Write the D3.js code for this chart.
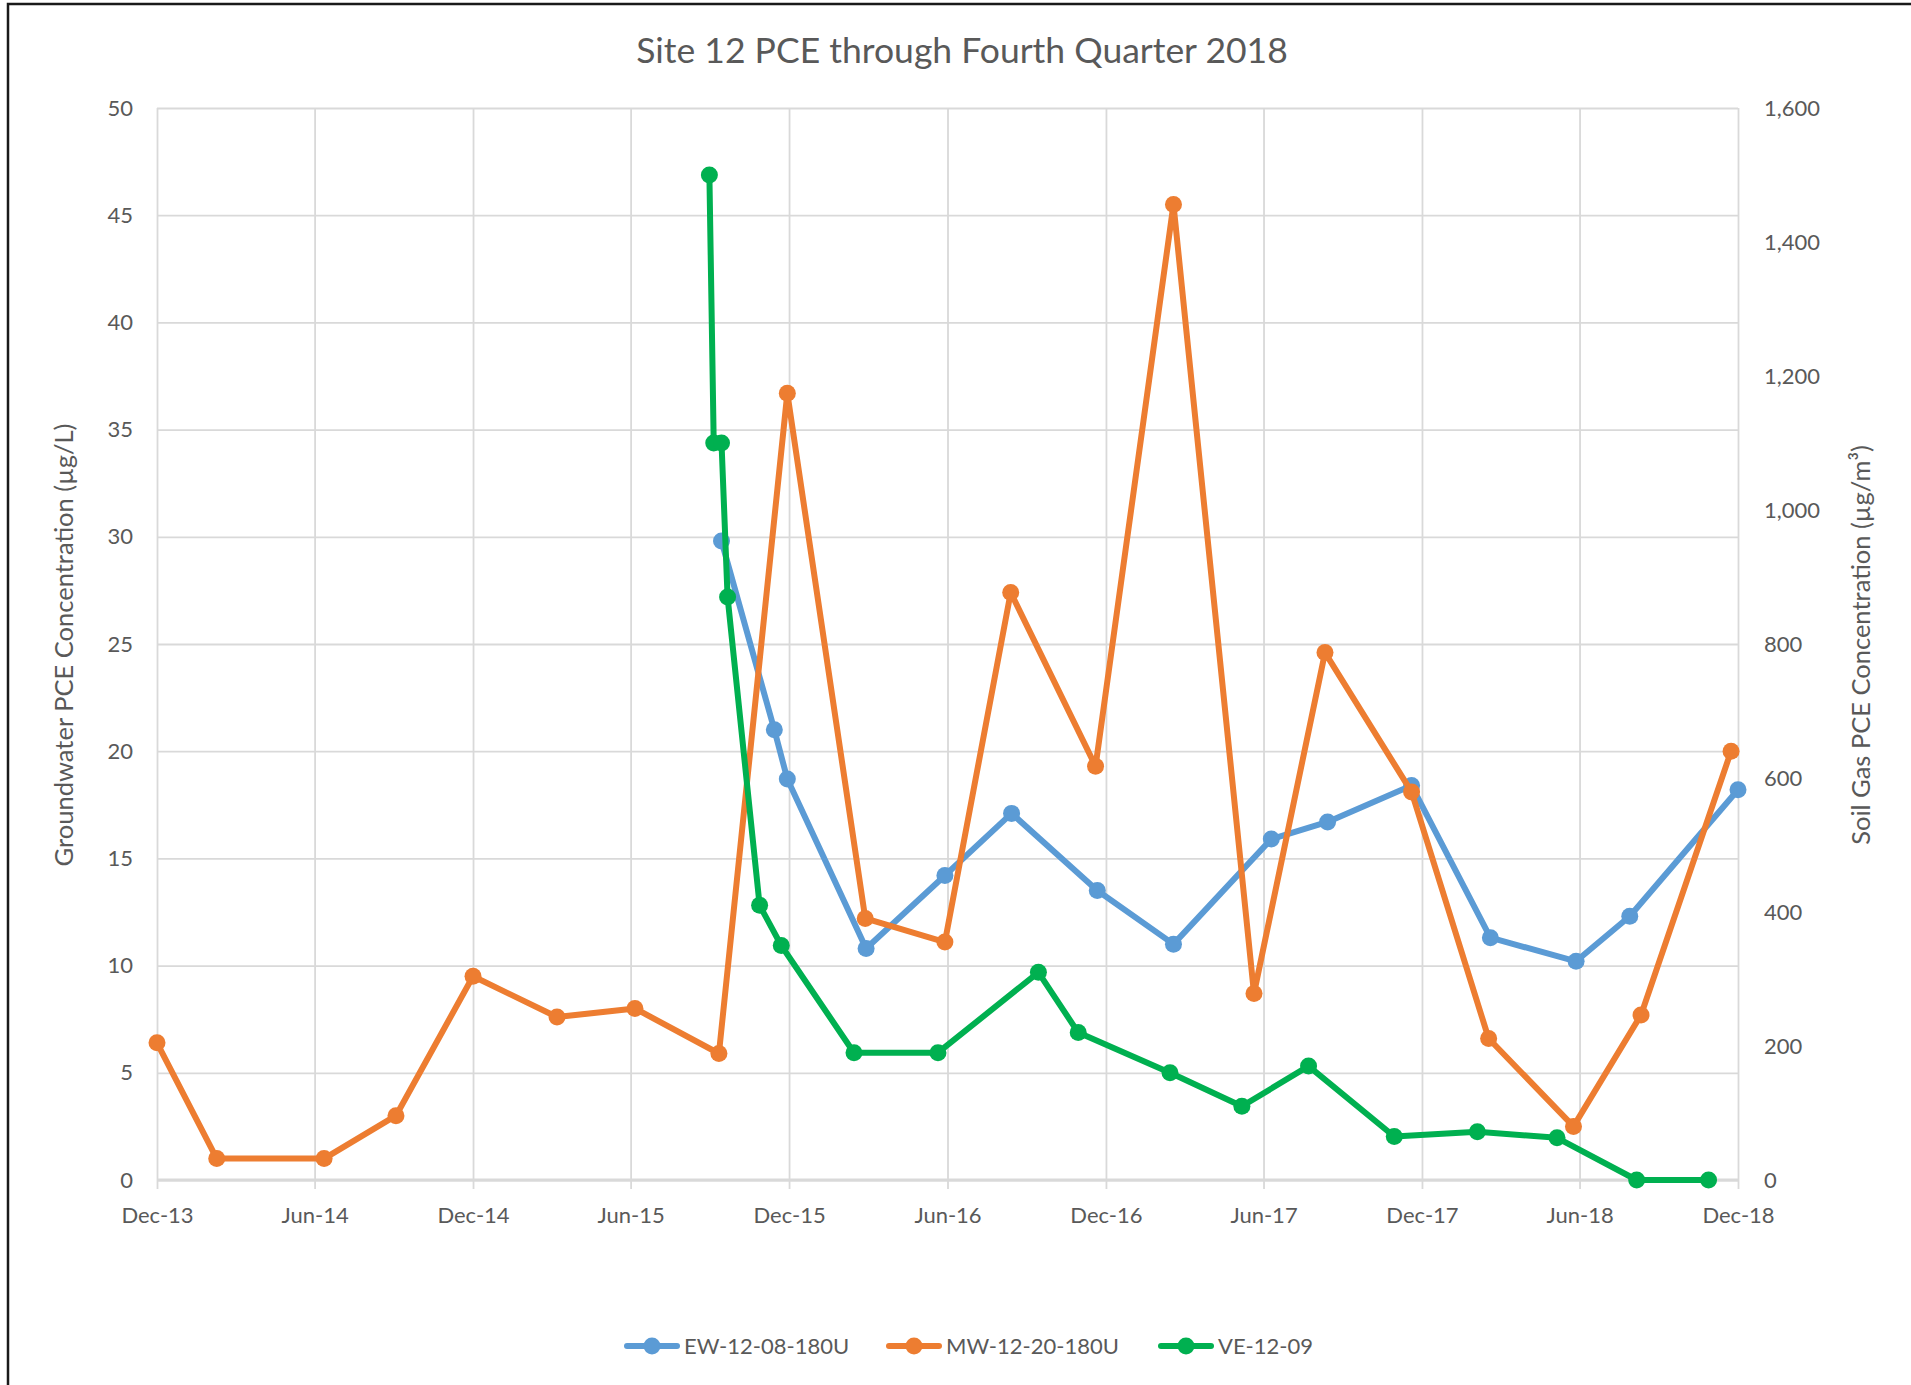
<!DOCTYPE html>
<html>
<head>
<meta charset="utf-8">
<script src="https://cdn.jsdelivr.net/npm/d3@7/dist/d3.min.js"></script>
<style>
    body { margin:0; background:#fff; }
    svg { display:block; }
    text { font-family: Lato, "Open Sans", sans-serif; fill:#595959; }
</style>
</head>
<body>
<svg id="chart" width="1911" height="1385"></svg>
<script>
// Groundwater wells (left axis, ug/L)
var ewDates  = ["2015-09-14","2015-11-14","2015-11-29","2016-02-28","2016-05-29","2016-08-14","2016-11-21",
                "2017-02-17","2017-06-10","2017-08-14","2017-11-19","2018-02-18","2018-05-28","2018-07-29","2018-12-01"];
var ewValues = [29.8, 21.0, 18.7, 10.8, 14.2, 17.1, 13.5, 11.0, 15.9, 16.7, 18.4, 11.3, 10.2, 12.3, 18.2];

var mwDates  = ["2013-12-01","2014-02-08","2014-06-12","2014-09-03","2014-12-01","2015-03-08","2015-06-06",
                "2015-09-11","2015-11-29","2016-02-27","2016-05-29","2016-08-13","2016-11-19","2017-02-17",
                "2017-05-21","2017-08-11","2017-11-19","2018-02-16","2018-05-25","2018-08-11","2018-11-23"];
var mwValues = [6.4, 1.0, 1.0, 3.0, 9.5, 7.6, 8.0, 5.9, 36.7, 12.2, 11.1, 27.4, 19.3, 45.5, 8.7, 24.6, 18.1, 6.6, 2.5, 7.7, 20.0];

// Soil gas (right axis, ug/m3)
var veDates  = ["2015-08-31","2015-09-05","2015-09-14","2015-09-21","2015-10-28","2015-11-22","2016-02-14",
                "2016-05-21","2016-09-14","2016-10-30","2017-02-13","2017-05-07","2017-07-23","2017-10-30",
                "2018-02-03","2018-05-06","2018-08-06","2018-10-28"];
var veValues = [1500, 1100, 1100, 870, 410, 350, 190, 190, 310, 220, 160, 110, 170, 65, 72, 63, 0, 0];

var seriesNames = ["EW-12-08-180U", "MW-12-20-180U", "VE-12-09"];
var leftTicks  = [0, 5, 10, 15, 20, 25, 30, 35, 40, 45, 50];
var rightTicks = [0, 200, 400, 600, 800, 1000, 1200, 1400, 1600];
var xStart = "2013-12-01", xEnd = "2018-12-01";

var conf = {
    left:157,
    right:1738,
    top:108,
    bottom:1180,
    gridColor:'#d9d9d9',
    lineWidth:6,
    markerR:8.5,
    colors:['#5b9bd5', '#ed7d31', '#00b050']
};

var parse = d3.utcParse("%Y-%m-%d");
var svg = d3.select('#chart');

svg.append("rect")
    .attr("x", 0).attr("y", 0)
    .attr("width", 1911).attr("height", 1385)
    .attr("fill", "#fff");

// outer frame (right and bottom are cut off in the picture)
svg.append("path")
    .attr("d", "M 8,1385 V 4 H 1911")
    .attr("fill", "none")
    .attr("stroke", "#1a1a1a")
    .attr("stroke-width", 2.5);

var x = d3.scaleUtc()
    .domain([parse(xStart), parse(xEnd)])
    .range([conf.left, conf.right]);
var yL = d3.scaleLinear().domain([0, 50]).range([conf.bottom, conf.top]);
var yR = d3.scaleLinear().domain([0, 1600]).range([conf.bottom, conf.top]);

var xTicks = d3.utcMonth.range(parse(xStart), d3.utcDay.offset(parse(xEnd), 1), 6);
var plotW = conf.right - conf.left;
var plotH = conf.bottom - conf.top;

// horizontal gridlines
var gy = svg.append("g")
    .attr("transform", "translate(" + conf.left + ",0)")
    .call(d3.axisLeft(yL).tickValues(leftTicks).tickSize(-plotW).tickFormat(""));
gy.select(".domain").remove();
gy.selectAll("line").attr("stroke", conf.gridColor).attr("stroke-width", 1.8);

// vertical gridlines, extending below as tick marks
var gx = svg.append("g")
    .attr("transform", "translate(0," + (conf.bottom + 9) + ")")
    .call(d3.axisBottom(x).tickValues(xTicks).tickSize(-(plotH + 9)).tickFormat(""));
gx.select(".domain").remove();
gx.selectAll("line").attr("stroke", conf.gridColor).attr("stroke-width", 1.8);

// x axis line
svg.append("line")
    .attr("x1", conf.left).attr("x2", conf.right)
    .attr("y1", conf.bottom).attr("y2", conf.bottom)
    .attr("stroke", conf.gridColor)
    .attr("stroke-width", 2.8);

// axis labels
var ax = svg.append("g")
    .attr("transform", "translate(0," + conf.bottom + ")")
    .call(d3.axisBottom(x).tickValues(xTicks).tickSize(9).tickPadding(18).tickFormat(d3.utcFormat("%b-%y")));
var aL = svg.append("g")
    .attr("transform", "translate(" + conf.left + ",0)")
    .call(d3.axisLeft(yL).tickValues(leftTicks).tickSize(0).tickPadding(24));
var aR = svg.append("g")
    .attr("transform", "translate(" + conf.right + ",0)")
    .call(d3.axisRight(yR).tickValues(rightTicks).tickSize(0).tickPadding(26).tickFormat(d3.format(",")));
[ax, aL, aR].forEach(function(a){
    a.select(".domain").remove();
    a.selectAll("line").remove();
    a.selectAll("text")
        .style("font-size", "22px")
        .attr("fill", "#595959");
    a.attr("font-family", null).attr("font-size", null);
});

// titles
svg.append("text")
    .attr("x", 962)
    .attr("y", 63)
    .style("text-anchor", "middle")
    .style("font-size", "35.5px")
    .text("Site 12 PCE through Fourth Quarter 2018");

svg.append("text")
    .attr("transform", "translate(73,645) rotate(-90)")
    .style("text-anchor", "middle")
    .style("font-size", "25.5px")
    .text("Groundwater PCE Concentration (µg/L)");

svg.append("text")
    .attr("transform", "translate(1870,645) rotate(-90)")
    .style("text-anchor", "middle")
    .style("font-size", "25.5px")
    .text("Soil Gas PCE Concentration (µg/m³)");

// series
var drawSeries = function(dates, values, yScale, color){
    var pts = dates.map(function(d, i){ return {date:parse(d), value:values[i]}; });
    var line = d3.line()
        .x(function(d){ return x(d.date); })
        .y(function(d){ return yScale(d.value); });
    var g = svg.append("g");
    g.append("path")
        .datum(pts)
        .attr("d", line)
        .attr("fill", "none")
        .attr("stroke", color)
        .attr("stroke-width", conf.lineWidth)
        .attr("stroke-linejoin", "round")
        .attr("stroke-linecap", "round");
    g.selectAll("circle")
        .data(pts)
        .enter().append("circle")
        .attr("cx", function(d){ return x(d.date); })
        .attr("cy", function(d){ return yScale(d.value); })
        .attr("r", conf.markerR)
        .attr("fill", color);
};

drawSeries(ewDates, ewValues, yL, conf.colors[0]);
drawSeries(mwDates, mwValues, yL, conf.colors[1]);
drawSeries(veDates, veValues, yR, conf.colors[2]);

// legend
var legendX = [624, 886, 1158];
var legend = svg.append("g");
seriesNames.forEach(function(name, i){
    var lx = legendX[i], ly = 1346;
    legend.append("line")
        .attr("x1", lx + 3).attr("x2", lx + 53)
        .attr("y1", ly).attr("y2", ly)
        .attr("stroke", conf.colors[i])
        .attr("stroke-width", conf.lineWidth)
        .attr("stroke-linecap", "round");
    legend.append("circle")
        .attr("cx", lx + 28).attr("cy", ly)
        .attr("r", conf.markerR)
        .attr("fill", conf.colors[i]);
    legend.append("text")
        .attr("x", lx + 60)
        .attr("y", ly)
        .attr("dy", "0.35em")
        .style("font-size", "22px")
        .text(name);
});
</script>
</body>
</html>
